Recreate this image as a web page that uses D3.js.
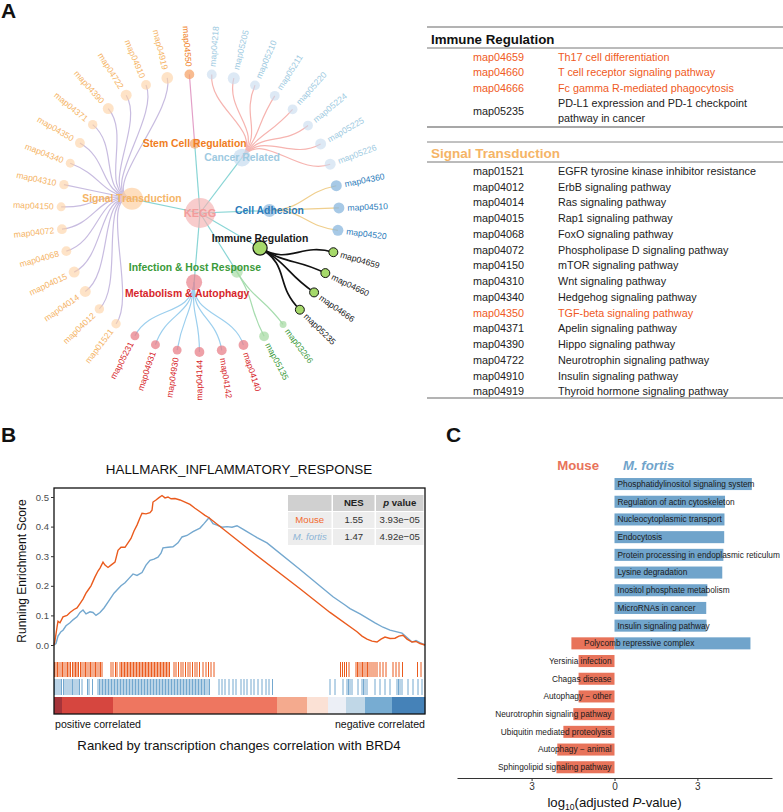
<!DOCTYPE html>
<html>
<head>
<meta charset="utf-8">
<script src="https://cdn.jsdelivr.net/npm/d3@7"></script>
<style>
  body { margin: 0; background: #fff; }
  svg { display: block; font-family: "Liberation Sans", Arial, Helvetica, sans-serif; }
</style>
</head>
<body>
<svg id="fig" width="783" height="812"></svg>
<script>
// ---------- panel A: KEGG tree ----------
const categories = ["Stem Cell Regulation", "Cancer Related", "Cell Adhesion", "Immune Regulation",
  "Infection & Host Response", "Metabolism & Autophagy", "Signal Transduction"];
const stemCellIds = ["map04550"];
const cancerIds = ["map04218", "map05205", "map05210", "map05211", "map05220", "map05224", "map05225", "map05226"];
const adhesionIds = ["map04360", "map04510", "map04520"];
const immuneIds = ["map04659", "map04660", "map04666", "map05235"];
const infectionIds = ["map03266", "map05135"];
const metabolismIds = ["map04140", "map04142", "map04144", "map04930", "map04931", "map05231"];
const signalIds = ["map01521", "map04012", "map04014", "map04015", "map04068", "map04072", "map04150", "map04310",
  "map04340", "map04350", "map04371", "map04390", "map04722", "map04910", "map04919"];
// node sizes (gene counts)
const stemCellSize = [12];
const cancerSize = [12, 18, 12, 12, 12, 12, 15, 15];
const adhesionSize = [15, 15, 15];
const immuneSize = [10, 10, 10, 10];
const infectionSize = [6, 12];
const metabolismSize = [12, 12, 12, 10, 10, 10];
const signalSize = [11, 11, 15, 15, 12, 12, 10, 11, 10, 12, 11, 15, 15, 12, 17];

// right-hand tables
const immuneRows = [
  ["map04659", "Th17 cell differentiation"],
  ["map04660", "T cell receptor signaling pathway"],
  ["map04666", "Fc gamma R-mediated phagocytosis"],
  ["map05235", "PD-L1 expression and PD-1 checkpoint\npathway in cancer"]
];
const immuneHighlight = ["map04659", "map04660", "map04666"];
const signalRows = [
  ["map01521", "EGFR tyrosine kinase inhibitor resistance"],
  ["map04012", "ErbB signaling pathway"],
  ["map04014", "Ras signaling pathway"],
  ["map04015", "Rap1 signaling pathway"],
  ["map04068", "FoxO signaling pathway"],
  ["map04072", "Phospholipase D signaling pathway"],
  ["map04150", "mTOR signaling pathway"],
  ["map04310", "Wnt signaling pathway"],
  ["map04340", "Hedgehog signaling pathway"],
  ["map04350", "TGF-beta signaling pathway"],
  ["map04371", "Apelin signaling pathway"],
  ["map04390", "Hippo signaling pathway"],
  ["map04722", "Neurotrophin signaling pathway"],
  ["map04910", "Insulin signaling pathway"],
  ["map04919", "Thyroid hormone signaling pathway"]
];
const signalHighlight = ["map04350"];

// ---------- panel B: GSEA ----------
const mouseES = [[0,0],[50,0.015],[150,0.06],[200,0.08],[300,0.075],[450,0.095],[650,0.1],[800,0.11],[1000,0.12],
  [1150,0.125],[1300,0.14],[1450,0.155],[1600,0.175],[1700,0.185],[1850,0.2],[1950,0.215],[2050,0.23],[2200,0.25],
  [2300,0.26],[2450,0.28],[2550,0.27],[2700,0.262],[2850,0.27],[3050,0.28],[3200,0.32],[3350,0.33],[3550,0.33],
  [3700,0.345],[3850,0.36],[4000,0.385],[4150,0.405],[4300,0.43],[4400,0.445],[4600,0.443],[4800,0.447],[4900,0.455],
  [4950,0.483],[5100,0.49],[5250,0.498],[5400,0.505],[5550,0.497],[5700,0.5],[5850,0.494],[6050,0.495],[6300,0.49],
  [6550,0.483],[6800,0.475],[7050,0.462],[7300,0.45],[7550,0.438],[7750,0.43],[9800,0.32],[12300,0.19],[13800,0.11],
  [15150,0.045],[15400,0.03],[15650,0.02],[15900,0.013],[16150,0.01],[16350,0.02],[16550,0.027],[16800,0.022],
  [17050,0.023],[17250,0.03],[17450,0.033],[17650,0.02],[17900,0.01],[18100,0.012],[18300,0.005],[18550,0]];
const fortisES = [[0,0],[100,0.005],[200,0.03],[350,0.045],[450,0.05],[600,0.065],[800,0.075],[950,0.085],[1150,0.095],
  [1300,0.11],[1450,0.118],[1600,0.105],[1800,0.112],[1950,0.11],[2100,0.1],[2300,0.11],[2500,0.125],[2700,0.145],
  [2850,0.16],[3000,0.175],[3150,0.186],[3350,0.2],[3550,0.21],[3750,0.225],[3950,0.24],[4150,0.235],[4400,0.245],
  [4600,0.27],[4800,0.286],[5000,0.29],[5200,0.297],[5350,0.31],[5450,0.328],[5700,0.33],[5950,0.332],[6200,0.345],
  [6400,0.365],[6650,0.37],[6950,0.383],[7150,0.39],[7300,0.395],[7500,0.41],[7750,0.43],[7950,0.41],[8150,0.405],
  [8400,0.398],[8650,0.4],[8900,0.398],[9150,0.403],[9400,0.393],[9650,0.383],[10150,0.363],[10650,0.345],
  [12300,0.255],[13950,0.163],[14550,0.135],[14800,0.123],[15300,0.105],[16050,0.075],[16450,0.06],[16800,0.05],
  [17100,0.045],[17400,0.04],[17650,0.025],[17900,0.01],[18100,0.015],[18300,0.008],[18550,0]];
const mouseHits = [25,100,175,250,350,425,500,600,675,750,825,925,1000,1075,1150,1225,1325,1400,1500,1575,1650,1750,
  1825,1900,2000,2075,2150,2250,2325,2400,2850,2950,3075,3150,3300,3375,3450,3525,3600,3675,3750,3825,3900,3975,4050,
  4125,4200,4275,4350,4425,4500,4575,4650,4725,4800,4875,4950,5025,5100,5175,5250,5325,5400,5475,5550,5625,5700,5775,
  6000,6100,6225,6350,6450,6575,6700,6800,6925,7050,7150,7275,7450,7600,7725,7850,8000,14325,14425,14525,14625,14750,
  15100,15175,15250,15350,15425,15500,15600,15675,15750,15850,15950,16050,16150,16300,16450,16600,16950,17100,17250,
  17425,18175,18350];
const fortisHits = [25,100,200,300,375,475,550,650,750,850,925,1000,1100,1200,1275,1400,1675,1750,1925,2200,2275,2350,
  2425,2500,2575,2650,2725,2800,2875,2950,3025,3100,3175,3250,3325,3400,3475,3550,3625,3700,3775,3850,3925,4000,4075,
  4150,4225,4300,4375,4450,4525,4600,4675,4750,4825,4900,4975,5050,5125,5200,5275,5350,5425,5500,5575,5650,5725,5800,
  5875,5950,6025,6100,6175,6250,6325,6400,6475,6550,6625,6700,6775,6850,6925,7000,7075,7150,7225,7300,7375,7450,7525,
  7600,7700,7775,8250,8400,8550,8750,8950,9100,9350,9500,9650,9850,10000,10200,10400,10600,10750,10925,13800,14050,
  14450,14650,14725,14800,14900,15200,15400,15475,15550,15650,16050,16300,16550,16800,17150,17225,17300,17400,17700,
  17950,18200,18400];
const rankBreaks = [0, 400, 2950, 11150, 12650, 13700, 14600, 15550, 16900, 18550];
const rankColors = ["#a5343a", "#d6463f", "#ee7660", "#f4aa8e", "#fbe1d5", "#eceff6", "#c0d7e7", "#77acd2", "#4582b8"];
const gseaGroups = ["Mouse", "M. fortis"];
const gseaNES = ["1.55", "1.47"];
const gseaP = ["3.93e\u221205", "4.92e\u221205"];
const esTicks = [0, 0.1, 0.2, 0.3, 0.4, 0.5];

// ---------- panel C: enrichment bars ----------
const pathwaysC = ["Phosphatidylinositol signaling system", "Regulation of actin cytoskeleton",
  "Nucleocytoplasmic transport", "Endocytosis", "Protein processing in endoplasmic reticulum", "Lysine degradation",
  "Inositol phosphate metabolism", "MicroRNAs in cancer", "Insulin signaling pathway", "Polycomb repressive complex",
  "Yersinia infection", "Chagas disease", "Autophagy \u2212 other", "Neurotrophin signaling pathway",
  "Ubiquitin mediated proteolysis", "Autophagy \u2212 animal", "Sphingolipid signaling pathway"];
const mouseLogP = [0, 0, 0, 0, 0, 0, 0, 0, 0, 1.56, 1.3, 1.3, 1.3, 1.49, 1.85, 2.07, 2.1];
const fortisLogP = [4.97, 4.0, 3.98, 3.97, 3.94, 3.9, 3.36, 3.32, 3.33, 4.92, 0, 0, 0, 0, 0, 0, 0];

// ---------- styles ----------
const catNode = ["#f5a46b", "#c6dbef", "#8ab7dd", "#a6d96a", "#a8dba5", "#e8808a", "#fdd0a2"];
const catText = ["#f07d22", "#9ecae1", "#2b7bba", "#1a1a1a", "#3a9a3a", "#d7262b", "#f5b466"];
const catLink = ["#e3a0c8", "#f6b4b0", "#f0cf8e", "#111111", "#a6dcae", "#9ccfee", "#c8bce0"];
const labelNudge = [[0, 0], [0, 0], [0, 0], [0, -10], [-42, -5], [-7, 11], [0, 0]];
const orange = "#ea5b1e", blue = "#74a8cf";
const hiColor = "#ef5a24";

const svg = d3.select("#fig");

function letter(x, y, t) {
  svg.append("text").attr("x", x).attr("y", y).attr("font-size", 21).attr("font-weight", "bold")
    .attr("fill", "#111").text(t);
}
letter(1, 18, "A");
letter(1, 442, "B");
letter(446, 442, "C");

// ===== Panel A tree =====
const cx = 200, cy = 213, leafR = 139;
const leafIds = [stemCellIds, cancerIds, adhesionIds, immuneIds, infectionIds, metabolismIds, signalIds];
const leafSizes = [stemCellSize, cancerSize, adhesionSize, immuneSize, infectionSize, metabolismSize, signalSize];
const root = d3.hierarchy({
  name: "KEGG",
  children: categories.map((c, i) => ({
    name: c, cat: i,
    children: leafIds[i].map((id, j) => ({ name: id, cat: i, size: leafSizes[i][j] }))
  }))
});
d3.cluster().size([360, leafR]).separation(() => 1)(root);
const rad = a => a * Math.PI / 180;
root.each(d => {
  d.a = d.x - 9;
  d.px = cx + d.y * Math.sin(rad(d.a));
  d.py = cy - d.y * Math.cos(rad(d.a));
});

const gA = svg.append("g");
gA.selectAll("line.trunk").data(root.children).join("line")
  .attr("x1", cx).attr("y1", cy).attr("x2", d => d.px).attr("y2", d => d.py)
  .attr("stroke", "#88d5d5").attr("stroke-width", 1.2);

const linkGen = d3.linkRadial().angle(d => rad(d.a)).radius(d => d.y);
gA.append("g").attr("transform", `translate(${cx},${cy})`)
  .selectAll("path").data(root.links().filter(l => l.source.depth === 1)).join("path")
  .attr("d", linkGen).attr("fill", "none")
  .attr("stroke", l => catLink[l.target.data.cat])
  .attr("stroke-width", l => l.target.data.cat === 3 ? 1.7 : 1.2);

const sizeScale = d3.scaleSqrt().domain([0, 18]).range([0, 6]);
const hubScale = d3.scaleSqrt().domain([1, 15]).range([5, 11]);

// root node
gA.append("circle").attr("cx", cx).attr("cy", cy).attr("r", 15)
  .attr("fill", "#f4b0b0").attr("fill-opacity", 0.65);
gA.append("text").attr("x", cx).attr("y", cy).attr("dy", "0.35em").attr("text-anchor", "middle")
  .attr("font-size", 11).attr("font-weight", "bold").attr("fill", "#f29c9c").text("KEGG");

// hubs
gA.selectAll("circle.hub").data(root.children).join("circle")
  .attr("cx", d => d.px).attr("cy", d => d.py).attr("r", d => hubScale(d.children.length))
  .attr("fill", d => catNode[d.data.cat]).attr("fill-opacity", d => d.data.cat === 3 ? 1 : 0.7)
  .attr("stroke", d => d.data.cat === 3 ? "#111" : "none").attr("stroke-width", 1.2);

// leaves
const leaves = root.leaves();
gA.selectAll("circle.leaf").data(leaves).join("circle")
  .attr("cx", d => d.px).attr("cy", d => d.py).attr("r", d => sizeScale(d.data.size))
  .attr("fill", d => catNode[d.data.cat])
  .attr("fill-opacity", d => d.data.cat === 3 ? 1 : (d.data.cat === 6 || d.data.cat === 1 ? 0.6 : 0.75))
  .attr("stroke", d => d.data.cat === 3 ? "#111" : "none").attr("stroke-width", 1);

gA.selectAll("text.leaf").data(leaves).join("text")
  .attr("transform", d => {
    const a = ((d.a % 360) + 360) % 360;
    const off = leafR + sizeScale(d.data.size) + 3;
    return `translate(${cx},${cy}) rotate(${d.a - 90}) translate(${off},0)` + (a > 180 ? " rotate(180)" : "");
  })
  .attr("text-anchor", d => ((((d.a % 360) + 360) % 360) > 180 ? "end" : "start"))
  .attr("dy", "0.35em").attr("font-size", 8.6)
  .attr("fill", d => catText[d.data.cat]).text(d => d.data.name);

// hub labels
gA.selectAll("text.hub").data(root.children).join("text")
  .attr("x", d => d.px + labelNudge[d.data.cat][0]).attr("y", d => d.py + labelNudge[d.data.cat][1])
  .attr("dy", "0.35em").attr("text-anchor", "middle").attr("font-size", 10.4).attr("font-weight", "bold")
  .attr("fill", d => catText[d.data.cat]).text(d => d.data.name);

// ===== Panel A tables =====
const tab = svg.append("g");
const tX0 = 427, tX1 = 783, codeX = 473, descX = 558;
function hline(y, w, c) {
  tab.append("line").attr("x1", tX0).attr("x2", tX1).attr("y1", y).attr("y2", y)
    .attr("stroke", c).attr("stroke-width", w);
}
hline(27, 1.6, "#9a9a9a");
tab.append("text").attr("x", 431).attr("y", 39).attr("dy", "0.35em").attr("font-size", 13.3)
  .attr("font-weight", "bold").attr("fill", "#111").text("Immune Regulation");
hline(48, 0.9, "#666");
const immY = d3.scaleLinear().domain([0, 1]).range([57, 72.5]);
immuneRows.forEach((r, i) => {
  const lines = r[1].split("\n");
  const col = immuneHighlight.includes(r[0]) ? hiColor : "#222";
  const yc = immY(i) + (lines.length - 1) * 7.5;
  tab.append("text").attr("x", codeX).attr("y", yc).attr("dy", "0.35em").attr("font-size", 10.8)
    .attr("fill", col).text(r[0]);
  lines.forEach((ln, k) => {
    tab.append("text").attr("x", descX).attr("y", immY(i) + k * 15).attr("dy", "0.35em").attr("font-size", 10.8)
      .attr("fill", col).text(ln);
  });
});
hline(127, 1.4, "#8a8a8a");

hline(142, 0.9, "#777");
tab.append("text").attr("x", 431).attr("y", 153).attr("dy", "0.35em").attr("font-size", 13.5)
  .attr("font-weight", "bold").attr("fill", "#f5b466").text("Signal Transduction");
hline(162, 0.9, "#666");
const sigY = d3.scaleLinear().domain([0, 1]).range([171, 186.76]);
signalRows.forEach((r, i) => {
  const col = signalHighlight.includes(r[0]) ? hiColor : "#222";
  tab.append("text").attr("x", codeX).attr("y", sigY(i)).attr("dy", "0.35em").attr("font-size", 10.8)
    .attr("fill", col).text(r[0]);
  tab.append("text").attr("x", descX).attr("y", sigY(i)).attr("dy", "0.35em").attr("font-size", 10.8)
    .attr("fill", col).text(r[1]);
});
hline(398, 1.6, "#9a9a9a");

// ===== Panel B GSEA =====
const gB = svg.append("g");
const bL = 54, bR = 425, bT = 488, bB = 714;
const xB = d3.scaleLinear().domain([0, 18550]).range([bL, bR]);
const yB = d3.scaleLinear().domain([0, 0.5]).range([645, 497]);

gB.append("text").attr("x", 239).attr("y", 469).attr("dy", "0.35em").attr("text-anchor", "middle")
  .attr("font-size", 13.4).attr("fill", "#111").text("HALLMARK_INFLAMMATORY_RESPONSE");

// rank metric color bar
gB.selectAll("rect.rank").data(rankColors).join("rect")
  .attr("x", (c, i) => xB(rankBreaks[i])).attr("width", (c, i) => xB(rankBreaks[i + 1]) - xB(rankBreaks[i]) + 0.3)
  .attr("y", 697).attr("height", bB - 697).attr("fill", c => c);

// rugs
gB.selectAll("line.mh").data(mouseHits).join("line")
  .attr("x1", d => xB(d)).attr("x2", d => xB(d)).attr("y1", 662).attr("y2", 677)
  .attr("stroke", orange).attr("stroke-width", 1);
gB.selectAll("line.fh").data(fortisHits).join("line")
  .attr("x1", d => xB(d)).attr("x2", d => xB(d)).attr("y1", 679).attr("y2", 695)
  .attr("stroke", blue).attr("stroke-width", 1);

const esLine = d3.line().x(d => xB(d[0])).y(d => yB(d[1]));
gB.append("path").datum(fortisES).attr("d", esLine).attr("fill", "none").attr("stroke", blue).attr("stroke-width", 1.4);
gB.append("path").datum(mouseES).attr("d", esLine).attr("fill", "none").attr("stroke", orange).attr("stroke-width", 1.4);

// frame
gB.append("rect").attr("x", bL).attr("y", bT).attr("width", bR - bL).attr("height", bB - bT)
  .attr("fill", "none").attr("stroke", "#111").attr("stroke-width", 1.3);

const yAx = gB.append("g").attr("transform", `translate(${bL},0)`)
  .call(d3.axisLeft(yB).tickValues(esTicks).tickFormat(d3.format(".1f")).tickSize(3).tickPadding(2));
yAx.select(".domain").remove();
yAx.selectAll("line").attr("stroke", "#333");
yAx.selectAll("text").attr("font-size", 9.5).attr("fill", "#4d4d4d").attr("font-family", null);

gB.append("text").attr("transform", "translate(22,571) rotate(-90)").attr("dy", "0.35em")
  .attr("text-anchor", "middle").attr("font-size", 12).attr("fill", "#111").text("Running Enrichment Score");

gB.append("text").attr("x", 55).attr("y", 724).attr("dy", "0.35em").attr("font-size", 10.6)
  .attr("fill", "#111").text("positive correlated");
gB.append("text").attr("x", bR).attr("y", 724).attr("dy", "0.35em").attr("text-anchor", "end")
  .attr("font-size", 10.6).attr("fill", "#111").text("negative correlated");
gB.append("text").attr("x", 239).attr("y", 745).attr("dy", "0.35em").attr("text-anchor", "middle")
  .attr("font-size", 13.2).attr("fill", "#111").text("Ranked by transcription changes correlation with BRD4");

// stats table
const colX = [288, 333, 376], colW = [43.5, 41.5, 47.5], rowY = [495, 512, 529], rowH = 16;
const tbl = gB.append("g");
rowY.forEach((ry, r) => colX.forEach((cxx, c) => {
  tbl.append("rect").attr("x", cxx).attr("y", ry).attr("width", colW[c]).attr("height", rowH)
    .attr("fill", r === 0 ? "#d0d0d0" : "#ededed");
}));
const cellT = (c, r) => tbl.append("text").attr("x", colX[c] + colW[c] / 2).attr("y", rowY[r] + rowH / 2)
  .attr("dy", "0.35em").attr("text-anchor", "middle").attr("font-size", 9.6);
cellT(1, 0).attr("font-weight", "bold").attr("fill", "#222").text("NES");
const pv = cellT(2, 0).attr("font-weight", "bold").attr("fill", "#222");
pv.append("tspan").attr("font-style", "italic").text("p");
pv.append("tspan").text(" value");
gseaGroups.forEach((g, i) => {
  cellT(0, i + 1).attr("fill", i === 0 ? "#f26b30" : "#8cb4d6").attr("font-style", i === 0 ? null : "italic").text(g);
  cellT(1, i + 1).attr("fill", "#333").text(gseaNES[i]);
  cellT(2, i + 1).attr("fill", "#333").text(gseaP[i]);
});

// ===== Panel C =====
const gC = svg.append("g");
const xC = d3.scaleLinear().domain([-5.7, 5.7]).range([457, 772]);
const yC = d3.scaleBand().domain(pathwaysC).range([475.2, 776.1]);
const bh = yC.bandwidth() * 0.68, boff = yC.bandwidth() * 0.16;
const cRed = "#e8735a", cBlue = "#70a4cb";

gC.append("text").attr("x", 599).attr("y", 465).attr("dy", "0.35em").attr("text-anchor", "end")
  .attr("font-size", 13.2).attr("font-weight", "bold").attr("fill", "#e8735a").text("Mouse");
gC.append("text").attr("x", 623).attr("y", 465).attr("dy", "0.35em").attr("font-size", 13.2)
  .attr("font-weight", "bold").attr("font-style", "italic").attr("fill", "#70a4cb").text("M. fortis");

gC.selectAll("rect.m").data(pathwaysC.filter((p, i) => mouseLogP[i] > 0)).join("rect")
  .attr("x", p => xC(-mouseLogP[pathwaysC.indexOf(p)])).attr("y", p => yC(p) + boff)
  .attr("width", p => xC(0) - xC(-mouseLogP[pathwaysC.indexOf(p)])).attr("height", bh).attr("fill", cRed);
gC.selectAll("rect.f").data(pathwaysC.filter((p, i) => fortisLogP[i] > 0)).join("rect")
  .attr("x", xC(0)).attr("y", p => yC(p) + boff)
  .attr("width", p => xC(fortisLogP[pathwaysC.indexOf(p)]) - xC(0)).attr("height", bh).attr("fill", cBlue);

pathwaysC.forEach((p, i) => {
  const t = gC.append("text").attr("y", yC(p) + yC.bandwidth() / 2).attr("dy", "0.35em")
    .attr("font-size", 8.3).attr("fill", "#1a1a1a").text(p);
  if (mouseLogP[i] > 0 && fortisLogP[i] > 0) t.attr("x", xC(-1.1)).attr("text-anchor", "start");
  else if (fortisLogP[i] > 0) t.attr("x", xC(0) + 3).attr("text-anchor", "start");
  else t.attr("x", xC(0) - 3).attr("text-anchor", "end");
});

const xAx = gC.append("g").attr("transform", "translate(0,778)")
  .call(d3.axisBottom(xC).tickValues([-3, 0, 3]).tickFormat(d => Math.abs(d)).tickSize(3).tickPadding(2).tickSizeOuter(0));
xAx.select(".domain").attr("stroke", "#333");
xAx.selectAll("line").attr("stroke", "#333");
xAx.selectAll("text").attr("font-size", 10).attr("fill", "#333").attr("font-family", null);

const xt = gC.append("text").attr("x", xC(0)).attr("y", 807).attr("text-anchor", "middle")
  .attr("font-size", 13.2).attr("fill", "#111");
xt.append("tspan").text("log");
xt.append("tspan").attr("font-size", 8.5).attr("dy", 3).text("10");
xt.append("tspan").attr("dy", -3).text("(adjusted ");
xt.append("tspan").attr("font-style", "italic").text("P");
xt.append("tspan").text("-value)");
</script>
</body>
</html>
